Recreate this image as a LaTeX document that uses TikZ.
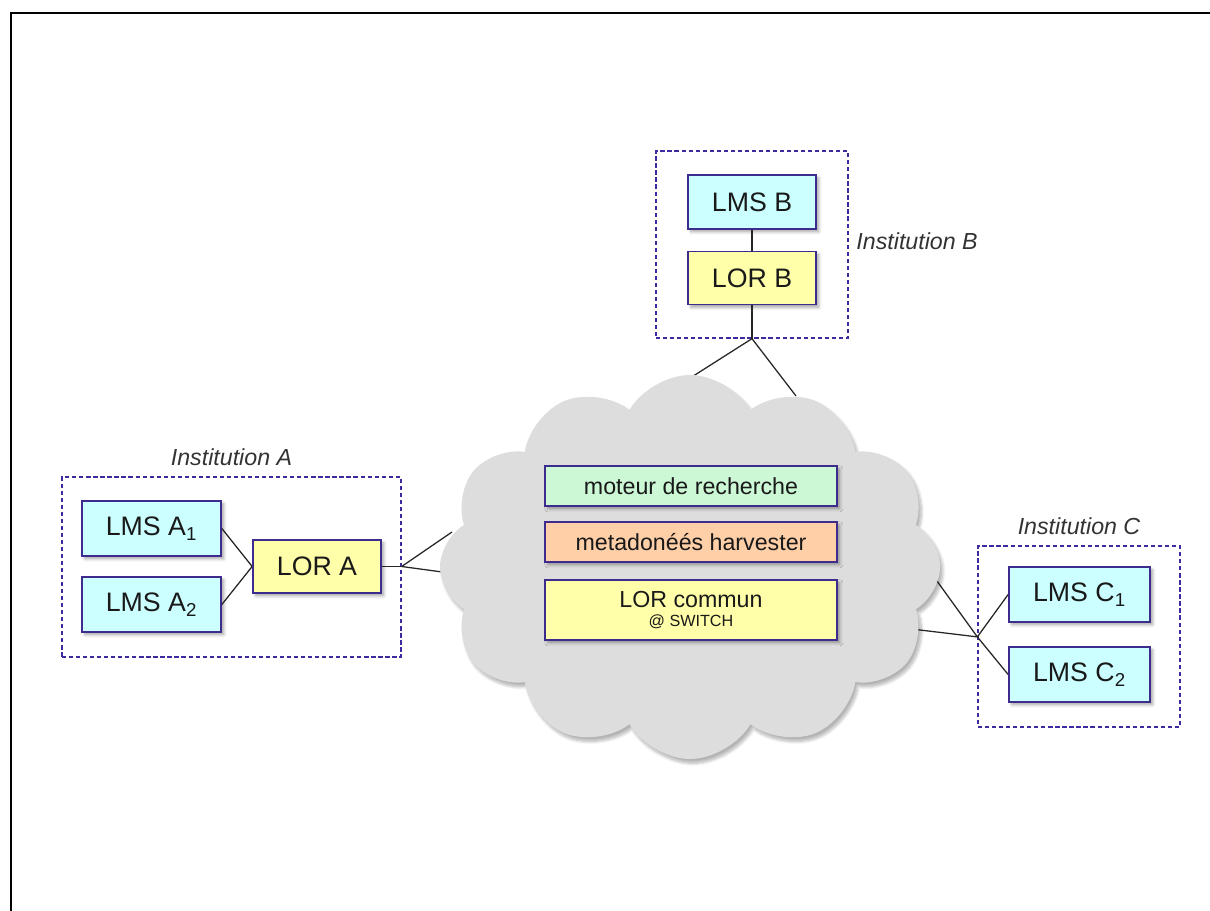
\documentclass[tikz,border=0pt]{standalone}
\usepackage{fontspec}
\setmainfont{Liberation Sans}
\usepackage{tikz}
\usetikzlibrary{positioning,fit,backgrounds,calc,shapes.symbols,shadows.blur}
\definecolor{boxline}{HTML}{3D2C8D}
\definecolor{instline}{HTML}{3A2CA0}
\definecolor{lmsfill}{HTML}{CCFFFF}
\definecolor{lorfill}{HTML}{FFFFAA}
\definecolor{mintfill}{HTML}{CCF8D6}
\definecolor{peachfill}{HTML}{FFCFA8}
\definecolor{cloudgray}{HTML}{DDDDDD}

\begin{document}
\begin{tikzpicture}[
  x=0.025cm, y=-0.025cm,
  font=\fontsize{19}{21}\selectfont,
  bx/.style={draw=boxline, line width=1.2pt, fill=#1, align=center, inner sep=2pt, text=black!90,
    blur shadow={shadow xshift=2pt, shadow yshift=-2pt, shadow blur steps=6, shadow opacity=35}},
  bx/.default=lmsfill,
  lms/.style={bx, minimum width=3.475cm, minimum height=1.375cm},
  lor/.style={bx=lorfill, minimum width=3.2cm, minimum height=1.33cm},
  inner/.style={bx=#1, minimum width=7.3cm, minimum height=1cm, font=\fontsize{16.5}{18}\selectfont},
  inst/.style={draw=instline, line width=0.9pt, dash pattern=on 3pt off 2pt, inner sep=0pt},
  lbl/.style={font=\itshape\fontsize{16.5}{18}\selectfont, text=black!80},
  link/.style={line width=0.9pt, draw=black!85},
]
\useasboundingbox (0,0) rectangle (1210,911);
\draw[line width=2pt] (11,13) rectangle (1240,940);

% nuage
\node[cloud, cloud puffs=12, cloud puff arc=120, fill=cloudgray, minimum width=12.5cm, minimum height=9.6cm, inner sep=0pt,
  blur shadow={shadow xshift=2pt, shadow yshift=-3pt, shadow blur steps=8, shadow opacity=30}] (net) at (690,567) {};
\node[inner=mintfill] (moteur) at (691,486) {moteur de recherche};
\node[inner=peachfill] (harv) at (691,542) {metadonéés harvester};
\node[inner=lorfill, minimum height=1.5cm] (commun) at (691,610) {LOR commun\\[-5pt]{\fontsize{11.5}{12}\selectfont @ SWITCH}};

% institution B
\node[lms, minimum width=3.2cm, minimum height=1.35cm] (lmsB) at (752,202) {LMS B};
\node[lor] (lorB) at (752,278) {LOR B};
\node[inst, minimum width=4.8cm, minimum height=4.675cm, label={[lbl, xshift=2pt, yshift=2pt]right:Institution B}] (instB) at (752,244.5) {};
\draw[link] (lmsB) -- (lorB);

% institution A
\node[lms] (lmsA1) at (151.5,528.5) {LMS A\textsubscript{1}};
\node[lms] (lmsA2) at (151.5,604.5) {LMS A\textsubscript{2}};
\node[lor] (lorA) at (317,566.5) {LOR A};
\node[inst, minimum width=8.475cm, minimum height=4.5cm, label={[lbl, yshift=4pt]above:Institution A}] (instA) at (231.5,567) {};
\draw[link] (lmsA1.east) -- (lorA.west);
\draw[link] (lmsA2.east) -- (lorA.west);

% institution C
\node[lms, minimum width=3.525cm] (lmsC1) at (1079.5,594.5) {LMS C\textsubscript{1}};
\node[lms, minimum width=3.525cm] (lmsC2) at (1079.5,674.5) {LMS C\textsubscript{2}};
\node[inst, minimum width=5.05cm, minimum height=4.525cm, label={[lbl, yshift=4pt]above:Institution C}] (instC) at (1079,636.5) {};

\coordinate (jA) at (instA.east |- lorA.east);
\coordinate (jB) at (instB.south -| lorB.south);
\coordinate (jC) at ($(instC.west |- lmsC1.west)!0.53!(instC.west |- lmsC2.west)$);
\coordinate (cA1) at (452,532);
\coordinate (cA2) at (457,574);
\coordinate (cB1) at (665,394);
\coordinate (cB2) at (796,396);
\coordinate (cC1) at (929,570);
\coordinate (cC2) at (895,627);

\draw[link] (lorA.east) -- (jA);
\draw[link] (lorB.south) -- (jB);
\draw[link] (jC) -- (lmsC1.west);
\draw[link] (jC) -- (lmsC2.west);
\begin{scope}[on background layer]
\draw[link] (jA) -- (cA1); \draw[link] (jA) -- (cA2);
\draw[link] (jB) -- (cB1); \draw[link] (jB) -- (cB2);
\draw[link] (jC) -- (cC1); \draw[link] (jC) -- (cC2);
\end{scope}
\end{tikzpicture}
\end{document}
